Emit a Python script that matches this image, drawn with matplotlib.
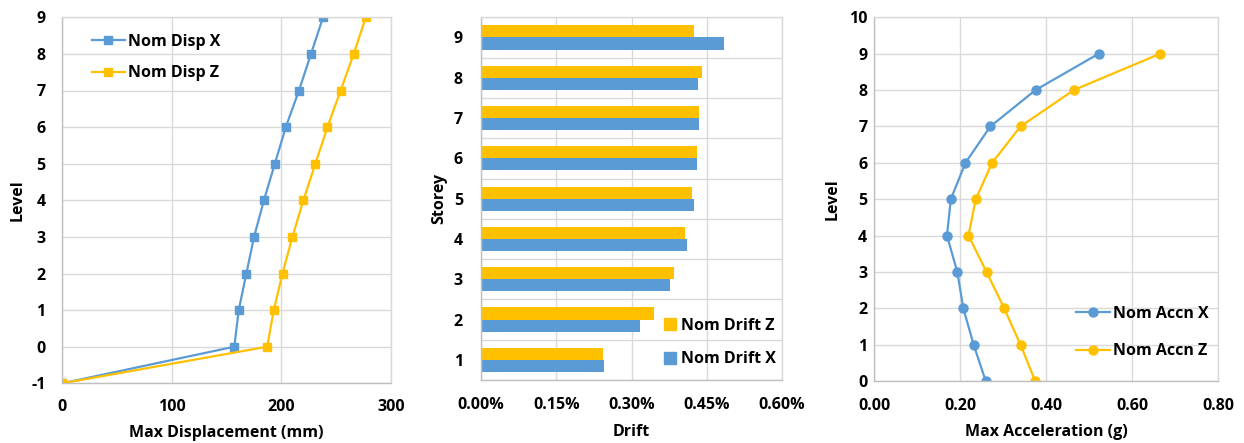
import matplotlib
matplotlib.use("Agg")
import matplotlib.pyplot as plt
from matplotlib.patches import Patch

plt.rcParams['font.family'] = ['Open Sans', 'DejaVu Sans']
plt.rcParams['font.weight'] = 'bold'
plt.rcParams['axes.unicode_minus'] = False

BLUE = '#5B9BD5'
ORANGE = '#FFC000'
GRID = '#D9D9D9'
AXIS = '#BFBFBF'
FS = 11.5
LEG = {'size': FS, 'weight': 'bold'}

# Displacement profile
disp_levels = [-1, 0, 1, 2, 3, 4, 5, 6, 7, 8, 9]
disp_x = [0, 157, 161, 168, 175, 184, 194, 204, 216, 227, 238]
disp_z = [0, 187, 193, 201, 210, 220, 231, 242, 254, 266, 277]

# Inter-storey drift (%)
storeys = [1, 2, 3, 4, 5, 6, 7, 8, 9]
drift_x = [0.246, 0.316, 0.376, 0.411, 0.425, 0.431, 0.435, 0.433, 0.485]
drift_z = [0.243, 0.344, 0.385, 0.407, 0.421, 0.431, 0.435, 0.440, 0.425]

# Acceleration profile
accn_levels = [0, 1, 2, 3, 4, 5, 6, 7, 8, 9]
accn_x = [0.259, 0.231, 0.207, 0.193, 0.169, 0.178, 0.212, 0.270, 0.375, 0.522]
accn_z = [0.374, 0.340, 0.302, 0.261, 0.219, 0.236, 0.274, 0.340, 0.464, 0.665]

disp_ticks = [0, 100, 200, 300]
drift_ticks = [0, 0.15, 0.30, 0.45, 0.60]
accn_ticks = [0, 0.2, 0.4, 0.6, 0.8]

fig = plt.figure(figsize=(12.44, 4.43), dpi=100)
W, H = 1244, 443
TK = dict(fontsize=FS, fontweight='bold')


def px_axes(l, r, t, b):
    return fig.add_axes([l / W, (H - b) / H, (r - l) / W, (b - t) / H])


def style(ax):
    ax.grid(True, color=GRID, linewidth=1.0)
    ax.set_axisbelow(True)
    for s in ('top', 'right'):
        ax.spines[s].set_color(GRID)
        ax.spines[s].set_linewidth(1.0)
    for s in ('left', 'bottom'):
        ax.spines[s].set_color(AXIS)
        ax.spines[s].set_linewidth(1.0)
    ax.tick_params(length=0, labelsize=FS)


# Panel 1: displacement
ax1 = px_axes(62.3, 391, 17.3, 383.3)
ax1.plot(disp_x, disp_levels, color=BLUE, lw=1.6, marker='s', ms=6, label='Nom Disp X')
ax1.plot(disp_z, disp_levels, color=ORANGE, lw=1.6, marker='s', ms=6, label='Nom Disp Z')
ax1.set_xlim(0, 300)
ax1.set_ylim(-1, 9)
ax1.set_xticks(disp_ticks, [str(v) for v in disp_ticks], **TK)
ax1.set_yticks(disp_levels, [str(v) for v in disp_levels], **TK)
style(ax1)
ax1.tick_params(axis='x', pad=11)
ax1.tick_params(axis='y', pad=12)
ax1.set_xlabel('Max Displacement (mm)', fontsize=FS, fontweight='bold')
ax1.set_ylabel('Level', fontsize=FS, fontweight='bold')
ax1.xaxis.set_label_coords(0.5, -0.136)
ax1.xaxis.label.set_va('center')
ax1.yaxis.set_label_coords(-0.135, 0.5)
ax1.yaxis.label.set_va('center')
ax1.legend(loc='upper left', bbox_to_anchor=(0.07, 0.972), frameon=False,
           prop=LEG, handlelength=2.1, handletextpad=0.2, labelspacing=0.95,
           borderaxespad=0)

# Panel 2: drift bars
ax2 = px_axes(481, 782, 17.3, 380)
h = 0.3
ax2.barh([s - h / 2 for s in storeys], drift_x, height=h, color=BLUE, label='Nom Drift X')
ax2.barh([s + h / 2 for s in storeys], drift_z, height=h, color=ORANGE, label='Nom Drift Z')
ax2.set_xlim(0, 0.6)
ax2.set_ylim(0.5, 9.5)
ax2.set_xticks(drift_ticks, [f'{v:.2f}%' for v in drift_ticks], **TK)
ax2.set_yticks(storeys, [str(s) for s in storeys], **TK)
ax2.set_yticks([s + 0.5 for s in range(0, 10)], minor=True)
style(ax2)
ax2.grid(False, axis='y', which='major')
ax2.grid(True, axis='y', which='minor', color=GRID, linewidth=1.0)
ax2.tick_params(which='minor', length=0)
ax2.tick_params(axis='x', pad=12)
ax2.tick_params(axis='y', pad=13)
ax2.set_xlabel('Drift', fontsize=FS, fontweight='bold')
ax2.set_ylabel('Storey', fontsize=FS, fontweight='bold')
ax2.xaxis.set_label_coords(0.5, -0.143)
ax2.xaxis.label.set_va('center')
ax2.yaxis.set_label_coords(-0.14, 0.5)
ax2.yaxis.label.set_va('center')
handles = [Patch(color=ORANGE, label='Nom Drift Z'), Patch(color=BLUE, label='Nom Drift X')]
ax2.legend(handles=handles, loc='lower right', bbox_to_anchor=(1.0, 0.017), frameon=False,
           prop=LEG, handlelength=0.75, handleheight=0.75, handletextpad=0.3,
           labelspacing=1.1, borderaxespad=0)

# Panel 3: acceleration
ax3 = px_axes(874.3, 1218.3, 17.3, 381)
ax3.plot(accn_x, accn_levels, color=BLUE, lw=1.6, marker='o', ms=6.5, label='Nom Accn X')
ax3.plot(accn_z, accn_levels, color=ORANGE, lw=1.6, marker='o', ms=6.5, label='Nom Accn Z')
ax3.set_xlim(0, 0.8)
ax3.set_ylim(0, 10)
ax3.set_xticks(accn_ticks, [f'{v:.2f}' for v in accn_ticks], **TK)
level_ticks = list(range(0, 11))
ax3.set_yticks(level_ticks, [str(v) for v in level_ticks], **TK)
style(ax3)
ax3.tick_params(axis='x', pad=12)
ax3.tick_params(axis='y', pad=5)
ax3.set_xlabel('Max Acceleration (g)', fontsize=FS, fontweight='bold')
ax3.set_ylabel('Level', fontsize=FS, fontweight='bold')
ax3.xaxis.set_label_coords(0.5, -0.141)
ax3.xaxis.label.set_va('center')
ax3.yaxis.set_label_coords(-0.12, 0.5)
ax3.yaxis.label.set_va('center')
ax3.legend(loc='lower right', bbox_to_anchor=(0.99, 0.042), frameon=False,
           prop=LEG, handlelength=2.1, handletextpad=0.2, labelspacing=1.35,
           borderaxespad=0)

fig.savefig('out.png', dpi=100)
